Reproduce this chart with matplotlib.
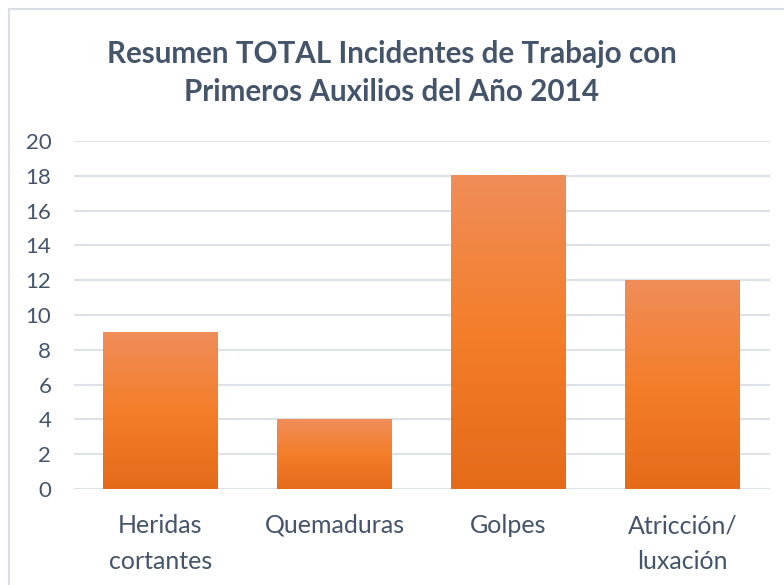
import matplotlib.pyplot as plt
import numpy as np
from matplotlib.colors import LinearSegmentedColormap
from matplotlib.patches import Rectangle

categorias = ['Heridas\ncortantes', 'Quemaduras', 'Golpes', 'Atricción/\nluxación']
valores = [9, 4, 18, 12]
ticks_y = [0, 2, 4, 6, 8, 10, 12, 14, 16, 18, 20]
titulo = 'Resumen TOTAL Incidentes de Trabajo con\nPrimeros Auxilios del Año 2014'

TXT = '#44546A'
plt.rcParams['font.family'] = ['Lato', 'DejaVu Sans']

fig = plt.figure(figsize=(7.84, 5.85), dpi=100)
# marco del gráfico (se corta a la derecha y abajo)
fig.patches.append(Rectangle((9 / 784, -0.05), 1.0, (585 - 9) / 585 + 0.05, transform=fig.transFigure,
                             fill=False, edgecolor='#D9DEE6', linewidth=1.5))
ax = fig.add_axes([73.5 / 784, (585 - 489) / 585, (769.5 - 73.5) / 784, (489 - 141) / 585])

# degradado naranja: claro arriba, oscuro abajo
cmap = LinearSegmentedColormap.from_list('nar', ['#E56B19', '#F47E2A', '#F08D59'])
grad = np.linspace(0, 1, 256).reshape(-1, 1)
ancho = 0.66
x = np.arange(len(valores))
for xi, v in zip(x, valores):
    ax.imshow(grad, extent=(xi - ancho / 2, xi + ancho / 2, 0, v), origin='lower',
              cmap=cmap, aspect='auto', zorder=3)

ax.set_xlim(-0.5, len(valores) - 0.5)
ax.set_ylim(0, 20)
ax.set_yticks(ticks_y)
ax.set_xticks(x)
ax.set_xticklabels(categorias, fontsize=18, color=TXT, linespacing=1.7)
ax.tick_params(axis='y', labelsize=16, labelcolor=TXT, length=0, pad=16)
ax.tick_params(axis='x', length=0, pad=18)
ax.grid(axis='y', color='#DDE1E8', linewidth=1.5, zorder=0)
for s in ax.spines.values():
    s.set_visible(False)
ax.set_axisbelow(True)

fig.text(0.5, 1 - 73 / 585, titulo, ha='center', va='center', fontsize=21.3, fontweight='bold',
         color=TXT, linespacing=1.4)

fig.savefig('out.png', dpi=100)
